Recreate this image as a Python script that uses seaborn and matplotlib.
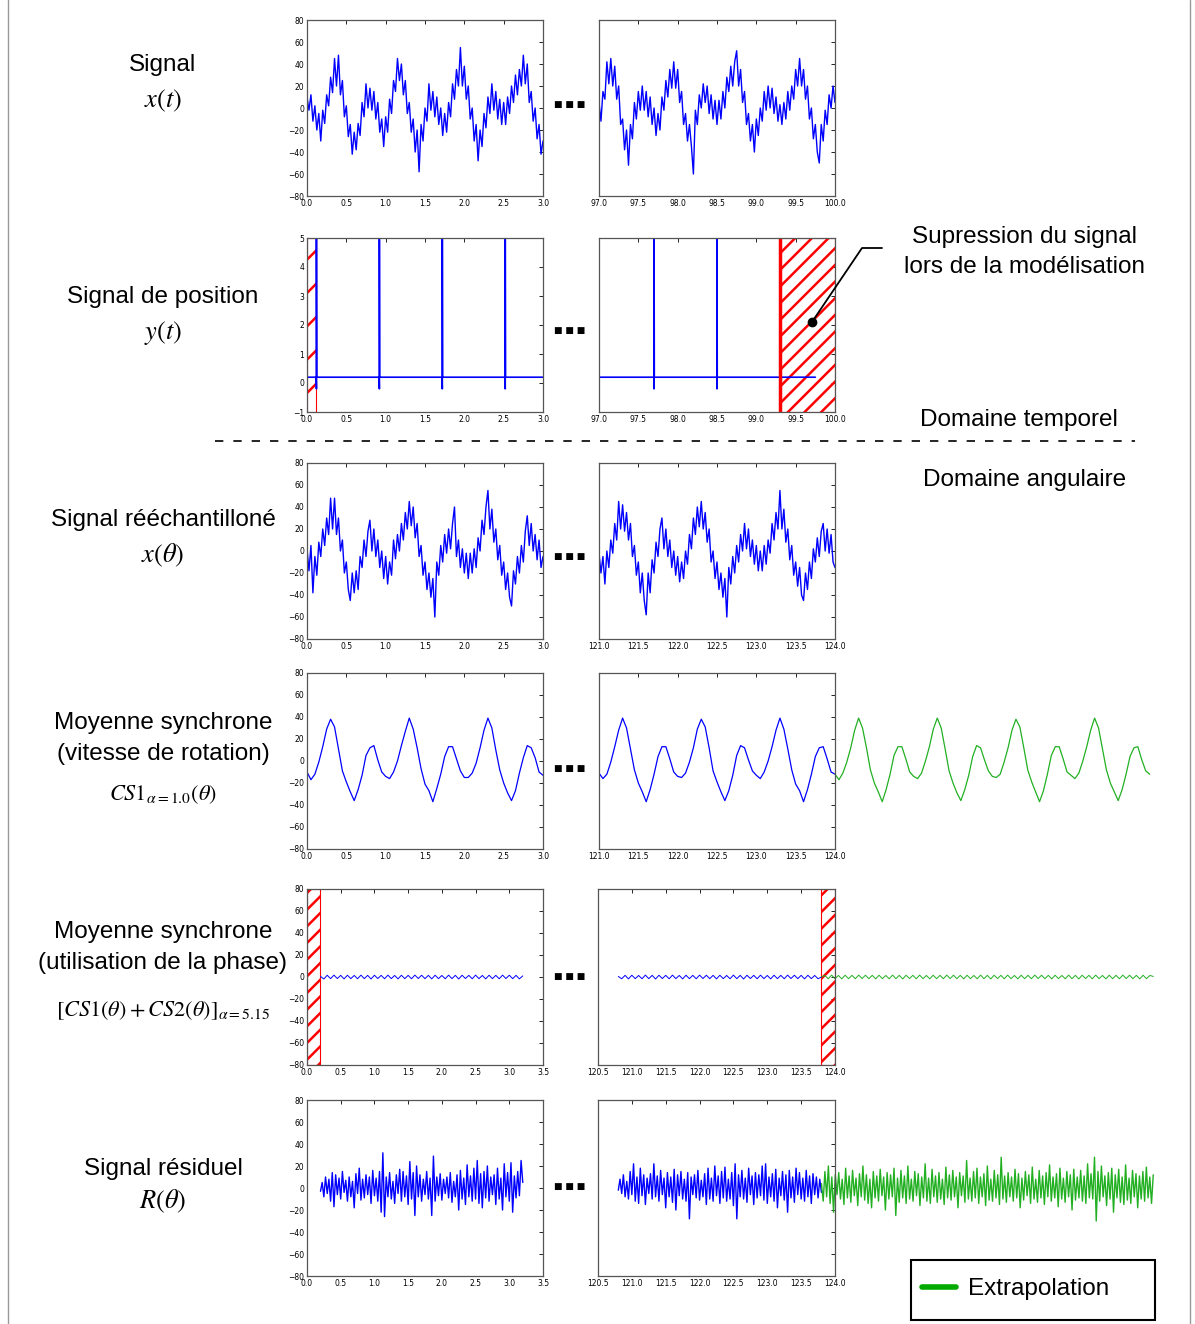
import numpy as np
import matplotlib
matplotlib.use("Agg")
import matplotlib.pyplot as plt
from matplotlib.lines import Line2D
from matplotlib.patches import Rectangle
import seaborn as sns

# ============ DATA ============
# row 1 : time signal x(t)
sig_t_start = [10, -2, 12, -12, 2, -20, -5, -30, -2, -14, 12, 2, 28, 14, 45, 20, 48, 12, 25, -8,
               2, -26, -15, -42, -22, -38, -14, -25, 5, -8, 22, 0, 18, -2, 15, -10, 5, -22, -10, -35,
               -8, -22, 8, -5, 25, 15, 45, 25, 40, 12, 25, -5, 5, -22, -10, -40, -20, -58, -15, -30,
               0, -12, 22, -2, 15, -8, 10, -15, 0, -25, -5, -22, 5, -8, 22, 8, 35, 20, 55, 20,
               38, 8, 20, -10, 0, -30, -15, -48, -20, -35, -5, -18, 10, -5, 22, -2, 15, -10, 8, -15,
               5, -15, 10, -5, 20, 5, 30, 12, 35, 20, 48, 22, 40, 5, 15, -12, 0, -28, -15, -42, -30]
sig_t_end = [5, -12, 15, 8, 42, 22, 45, 20, 38, 8, 20, -15, -10, -38, -20, -52, -15, -28, 5, -10,
             15, -2, 20, -2, 15, -8, 10, -15, 0, -25, -5, -20, 10, -2, 25, 10, 35, 18, 42, 18,
             35, 5, 15, -15, -5, -30, -15, -35, -60, -2, -15, 12, 0, 22, 5, 20, -5, 12, -10, 7,
             -15, 7, -10, 15, 0, 28, 15, 38, 20, 42, 52, 20, 35, 5, 15, -15, -5, -30, -15, -40,
             -10, -25, 0, -12, 15, -2, 20, 0, 18, -5, 10, -12, 3, -15, 5, -10, 15, -2, 20, 8,
             35, 20, 45, 20, 35, 8, 20, -10, 0, -28, -15, -40, -50, -15, -30, -2, -15, 12, 0, 20, 5]

# row 2 : position signal y(t)
pulse_start = [0.12, 0.92, 1.72, 2.52]
pulse_end = [97.7, 98.5]
pulse_top, pulse_low, pos_base = 5.0, -0.2, 0.2
cut_start = (0.0, 0.12)      # suppressed while modelling
cut_end = (99.3, 100.0)
pos_end_stop = 99.75

# row 3 : resampled signal x(theta)
sig_a_start = [2, -18, 5, -38, -5, -22, 8, -5, 20, 5, 30, 15, 48, 20, 48, 15, 30, 0, 10, -20,
               -10, -35, -45, -20, -38, -18, -35, -5, -15, 10, -5, 18, 28, 0, 20, -5, 10, -15, 0, -25,
               -5, -30, -10, -22, 10, -7, 15, 0, 25, 10, 35, 20, 45, 23, 40, 12, 25, -5, 5, -22,
               -10, -35, -20, -42, -25, -60, -10, -22, 5, -10, 15, -2, 20, 2, 25, 40, -5, 10, -15, 2,
               -20, -2, -25, -2, -20, 2, -15, 12, 0, 28, 15, 40, 55, 20, 38, 8, 20, -8, 5, -22,
               -10, -35, -20, -42, -50, -18, -30, -5, -20, 5, -10, 18, 32, 5, 25, 0, 15, -8, 10, -15, -5]
sig_a_end = [-2, -20, -5, -30, 0, -15, 10, -2, 25, 10, 45, 20, 42, 18, 35, 10, 25, -5, 5, -22,
             -10, -38, -20, -45, -58, -20, -38, -8, -20, 8, -5, 20, 30, 2, 20, -5, 10, -15, 0, -22,
             -5, -28, -10, -25, 0, -12, 15, 2, 30, 15, 40, 22, 45, 20, 35, 8, 20, -10, 0, -25,
             -10, -35, -20, -42, -25, -60, -15, -30, -5, -20, 5, -10, 15, 0, 25, 2, 20, -5, 10, -12,
             5, -18, 0, -18, 5, -12, 10, -2, 25, 10, 35, 20, 55, 20, 38, 8, 20, -8, 5, -22,
             -10, -32, -15, -40, -45, -20, -35, -10, -25, 2, -10, 12, -5, 18, 25, 0, 20, -2, 15, -10, -15]

# row 4 : synchronous average CS1
cs1_start = [-10, -17, -12, -1, 13, 29, 38, 31, 11, -9, -19, -28, -36, -26, -13, 5, 12, 14, 1, -10,
             -14, -16, -10, 0, 14, 27, 39, 29, 12, -7, -21, -27, -37, -25, -12, 4, 13, 13, 2, -9,
             -15, -15, -11, -2, 12, 28, 39, 30, 10, -8, -20, -29, -36, -27, -11, 3, 14, 12, 3, -10, -13]
cs1_end = [-11, -16, -12, -1, 13, 28, 39, 30, 11, -8, -20, -28, -37, -26, -12, 4, 13, 13, 2, -10,
           -14, -15, -11, -1, 12, 29, 38, 31, 12, -9, -19, -28, -36, -27, -13, 5, 14, 12, 1, -9,
           -13, -16, -10, 0, 13, 28, 39, 29, 11, -8, -21, -27, -37, -26, -12, 4, 12, 13, 2, -10, -12]
cs1_extra = [-12, -17, -11, -1, 12, 28, 39, 30, 12, -8, -20, -28, -37, -26, -12, 5, 13, 13, 2, -10,
             -14, -16, -11, 0, 13, 29, 39, 30, 11, -9, -20, -29, -36, -26, -13, 4, 14, 12, 1, -9,
             -14, -15, -12, -1, 12, 28, 38, 31, 12, -8, -19, -28, -37, -27, -12, 5, 13, 13, 2, -10,
             -13, -16, -11, 0, 13, 28, 39, 30, 11, -8, -20, -28, -36, -26, -12, 4, 12, 13, 1, -9, -12]

# row 5 : CS1 + CS2 (phase)
cs12_start = [0.5, -1.8, 1.6, -1.5, 1.7, -1.4, 1.5, -1.7, 1.6, -1.5, 1.4, -1.6, 1.7, -1.5, 1.5, -1.8,
              1.6, -1.4, 1.5, -1.6, 1.7, -1.5, 1.4, -1.7, 1.6, -1.5, 1.5, -1.6, 1.7, -1.4, 1.6,
              -1.5, 1.5, -1.7, 1.6, -1.5, 1.4, -1.6, 1.7, -1.5, 1.5, -1.8, 1.6, -1.4, 1.5, -1.6,
              1.7, -1.5, 1.4, -1.7, 1.6, -1.5, 1.5, -1.6, 1.7, -1.4, 1.6, -1.5, 1.5, -1.7, 1.0]
cs12_end = [0.5, -1.6, 1.5, -1.7, 1.6, -1.5, 1.4, -1.6, 1.7, -1.5, 1.5, -1.8, 1.6, -1.4, 1.5, -1.6,
            1.7, -1.5, 1.4, -1.7, 1.6, -1.5, 1.5, -1.6, 1.7, -1.4, 1.6, -1.5, 1.5, -1.7, 1.6,
            -1.5, 1.4, -1.6, 1.7, -1.5, 1.5, -1.8, 1.6, -1.4, 1.5, -1.6, 1.7, -1.5, 1.4, -1.7,
            1.6, -1.5, 1.5, -1.6, 1.7, -1.4, 1.6, -1.5, 1.5, -1.7, 1.6, -1.5, 1.4, -1.6, 0.0]
cs12_extra = [0.0, 1.5, -1.6, 1.7, -1.5, 1.4, -1.7, 1.6, -1.5, 1.5, -1.6, 1.7, -1.4, 1.6, -1.5, 1.5,
              -1.7, 1.6, -1.5, 1.4, -1.6, 1.7, -1.5, 1.5, -1.8, 1.6, -1.4, 1.5, -1.6, 1.7, -1.5,
              1.4, -1.7, 1.6, -1.5, 1.5, -1.6, 1.7, -1.4, 1.6, -1.5, 1.5, -1.7, 1.6, -1.5, 1.4,
              -1.6, 1.7, -1.5, 1.5, -1.8, 1.6, -1.4, 1.5, -1.6, 1.7, -1.5, 1.4, -1.7, 1.6, -1.5,
              1.5, -1.6, 1.7, -1.4, 1.6, -1.5, 1.5, -1.7, 1.6, -1.5, 1.4, -1.6, 1.7, -1.5, 1.5,
              -1.8, 1.6, -1.4, 1.5, -1.6, 1.7, -1.5, 1.4, -1.7, 1.6, -1.5, 1.5, -1.6, 1.7, -1.4,
              1.6, -1.5, 1.5, -1.7, 1.6, -1.5, 1.4, 0.5]

# row 6 : residual R(theta)
res_start = [-3, 5, -8, 10, -5, 8, -12, 14, -17, 12, -6, 9, -10, 15, -4, 7, -12, 10, -8, 6,
             -18, 13, -5, 18, -11, 8, -9, 12, -6, 10, -14, 16, -7, 9, -12, 15, -22, 32, -26, 10,
             -8, 14, -10, 6, -14, 12, -5, 17, -12, 15, -8, 11, -15, 24, -10, 14, -25, 20, -8, 12,
             -12, 8, -6, 15, -10, 9, -25, 29, -12, 10, -7, 13, -11, 8, -5, 10, -9, 14, -13, 6,
             -8, 12, -20, 16, -10, 9, -15, 21, -8, 11, -12, 18, -10, 25, -14, 13, -18, 15, -9, 20,
             -12, 10, -6, 12, -15, 18, -10, 9, -20, 22, -8, 14, -12, 23, -22, 11, -9, 15, -7, 25, 5]
res_end = [-2, 8, -5, 12, -8, 6, -10, 15, -6, 22, -12, 10, -14, 18, -7, 12, -15, 9, -5, 13,
           -10, 22, -8, 11, -12, 16, -6, 9, -18, 14, -8, 10, -13, 17, -20, 12, -7, 15, -10, 8,
           -12, 14, -28, 10, -6, 12, -9, 16, -11, 7, -8, 13, -15, 18, -10, 9, -12, 20, -7, 11,
           -14, 15, -9, 19, -12, 8, -10, 14, -16, 22, -28, 12, -8, 16, -10, 9, -13, 18, -6, 11,
           -15, 14, -9, 12, -7, 20, -11, 22, -14, 10, -8, 13, -12, 17, -18, 9, -7, 15, -11, 12,
           -22, 16, -9, 10, -13, 18, -6, 14, -10, 9, -12, 16, -8, 11, -14, 13, -6, 10, -9, 8, -4]
res_extra = [4, -12, 15, -8, 20, -14, 10, -22, 12, -6, 14, -10, 8, -15, 18, -9, 11, -13, 16, -7,
             9, -16, 13, -8, 20, -11, 12, -14, 8, -18, 15, -9, 11, -12, 17, -7, 10, -20, 14, -10,
             12, -8, 18, -25, 9, -13, 16, -9, 11, -14, 20, -10, 8, -12, 15, -7, 13, -16, 10, -9,
             22, -12, 9, -14, 17, -8, 11, -13, 14, -10, 8, -15, 19, -9, 12, -11, 16, -8, 10, -18,
             14, -7, 11, -13, 25, -10, 9, -12, 15, -9, 18, -14, 10, -8, 13, -16, 20, -11, 8, -12,
             16, -9, 12, -15, 28, -10, 11, -13, 14, -8, 10, -12, 17, -9, 13, -18, 9, -11, 15, -7,
             12, -14, 19, -10, 8, -13, 16, -9, 11, -15, 14, -8, 21, -12, 10, -9, 13, -17, 18, -10,
             9, -13, 15, -8, 12, -20, 17, -11, 10, -9, 16, -12, 11, -14, 22, -9, 13, -10, 28, -30,
             15, -12, 20, -8, 11, -16, 14, -10, 18, -22, 12, -9, 17, -13, 10, -15, 21, -11, 9, -14,
             16, -8, 13, -18, 11, -10, 15, -12, 19, -9, 10, -14, 12]

# ============ STYLE ============
sns.set_theme(style="white")
plt.rcParams["font.family"] = ["Liberation Sans", "DejaVu Sans"]
plt.rcParams["mathtext.fontset"] = "stix"
plt.rcParams["hatch.linewidth"] = 1.8
plt.rcParams["text.color"] = "black"

W, H = 1195, 1324
BLUE = "#0000ff"
GREEN = "#22b022"

fig = plt.figure(figsize=(W / 100, H / 100), dpi=100)
fig.patch.set_facecolor("white")


def add_ax(x0, top, x1, bottom):
    return fig.add_axes([x0 / W, 1 - bottom / H, (x1 - x0) / W, (bottom - top) / H])


def draw(ax, x0, x1, vals, color=BLUE, lw=1.0, clip=True):
    x = np.linspace(x0, x1, len(vals))
    sns.lineplot(x=x, y=vals, ax=ax, color=color, lw=lw, estimator=None,
                 sort=False, legend=False, clip_on=clip)


def style_ax(ax, xlim, xstep, ylim, ystep, show_y=True):
    ax.set_xlim(*xlim)
    ax.set_ylim(*ylim)
    ax.set_xticks(np.arange(xlim[0], xlim[1] + 1e-9, xstep))
    ax.set_yticks(np.arange(ylim[0], ylim[1] + 1e-9, ystep))
    ax.tick_params(direction="in", top=True, right=True, length=3, width=0.6,
                   labelsize=5.5, pad=2, labelleft=show_y, colors="black")
    for lab in ax.get_xticklabels() + ax.get_yticklabels():
        lab.set_fontfamily("DejaVu Sans")
    for sp in ax.spines.values():
        sp.set_color("#555555")
        sp.set_linewidth(0.9)
    ax.set_facecolor("white")


def hatch_span(ax, x0, x1, pattern):
    ax.axvspan(x0, x1, facecolor="none", edgecolor="red", hatch=pattern, lw=0.8)


def pos_series(x0, x1, pulses):
    t, y = [x0], [pos_base]
    for p in pulses:
        t += [p - 0.003, p, p, p + 0.003]
        y += [pos_base, pulse_low, pulse_top, pos_base]
    t.append(x1)
    y.append(pos_base)
    return np.array(t), np.array(y)


rows = [(20, 196), (238, 412), (463, 639), (673, 849), (889, 1065), (1100, 1276)]
SIG = (-80, 80)

# row 1
a = add_ax(307, rows[0][0], 543, rows[0][1])
draw(a, 0.0, 3.0, sig_t_start)
style_ax(a, (0, 3), 0.5, SIG, 20)
b = add_ax(599, rows[0][0], 835, rows[0][1])
draw(b, 97.0, 100.0, sig_t_end)
style_ax(b, (97, 100), 0.5, SIG, 20, show_y=False)

# row 2
a = add_ax(307, rows[1][0], 543, rows[1][1])
t, y = pos_series(0.0, 3.0, pulse_start)
sns.lineplot(x=t, y=y, ax=a, color=BLUE, lw=1.2, estimator=None, sort=False, legend=False)
hatch_span(a, *cut_start, "/")
style_ax(a, (0, 3), 0.5, (-1, 5), 1)
b = add_ax(599, rows[1][0], 835, rows[1][1])
t, y = pos_series(97.0, pos_end_stop, pulse_end)
sns.lineplot(x=t, y=y, ax=b, color=BLUE, lw=1.2, estimator=None, sort=False, legend=False)
hatch_span(b, *cut_end, "//")
b.axvline(cut_end[0], color="red", lw=2.5)
style_ax(b, (97, 100), 0.5, (-1, 5), 1, show_y=False)
b.plot([99.71], [2.1], "o", color="black", ms=6, clip_on=False)

# row 3
a = add_ax(307, rows[2][0], 543, rows[2][1])
draw(a, 0.0, 3.0, sig_a_start)
style_ax(a, (0, 3), 0.5, SIG, 20)
b = add_ax(599, rows[2][0], 835, rows[2][1])
draw(b, 121.0, 124.0, sig_a_end)
style_ax(b, (121, 124), 0.5, SIG, 20, show_y=False)

# row 4
a = add_ax(307, rows[3][0], 543, rows[3][1])
draw(a, 0.0, 3.0, cs1_start, lw=0.9)
style_ax(a, (0, 3), 0.5, SIG, 20)
b = add_ax(599, rows[3][0], 835, rows[3][1])
draw(b, 121.0, 124.0, cs1_end, lw=0.9)
draw(b, 124.0, 128.0, cs1_extra, color=GREEN, lw=0.9, clip=False)
style_ax(b, (121, 124), 0.5, SIG, 20, show_y=False)

# row 5
a = add_ax(307, rows[4][0], 543, rows[4][1])
draw(a, 0.2, 3.2, cs12_start, lw=0.7)
hatch_span(a, 0.0, 0.2, "//")
style_ax(a, (0, 3.5), 0.5, SIG, 20)
b = add_ax(598, rows[4][0], 835, rows[4][1])
draw(b, 120.8, 123.8, cs12_end, lw=0.7)
draw(b, 123.8, 128.7, cs12_extra, color=GREEN, lw=0.7, clip=False)
hatch_span(b, 123.8, 124.0, "//")
style_ax(b, (120.5, 124), 0.5, SIG, 20, show_y=False)

# row 6
a = add_ax(307, rows[5][0], 543, rows[5][1])
draw(a, 0.2, 3.2, res_start)
style_ax(a, (0, 3.5), 0.5, SIG, 20)
b = add_ax(598, rows[5][0], 835, rows[5][1])
draw(b, 120.8, 123.8, res_end)
draw(b, 123.8, 128.7, res_extra, color=GREEN, clip=False)
style_ax(b, (120.5, 124), 0.5, SIG, 20, show_y=False)

# ============ TEXT / DECORATION ============
left_labels = [
    ("Signal", 65, 17.5), ("$x(t)$", 101, 19),
    ("Signal de position", 297, 17.5), ("$y(t)$", 333, 19),
    ("Signal rééchantilloné", 520, 17.5), ("$x(\\theta)$", 555, 19),
    ("Moyenne synchrone", 723, 17.5), ("(vitesse de rotation)", 754, 17.5),
    ("$CS1_{\\alpha=1.0}(\\theta)$", 795, 16),
    ("Moyenne synchrone", 932, 17.5), ("(utilisation de la phase)", 963, 17.5),
    ("$[CS1(\\theta) + CS2(\\theta)]_{\\alpha=5.15}$", 1011, 16),
    ("Signal résiduel", 1169, 17.5), ("$R(\\theta)$", 1201, 19),
]
for txt, yp, fs in left_labels:
    fig.text(163 / W, 1 - yp / H, txt, ha="center", va="center", fontsize=fs, color="black")

fig.text(1025 / W, 1 - 237 / H, "Supression du signal", ha="center", va="center", fontsize=17.5)
fig.text(1025 / W, 1 - 267 / H, "lors de la modélisation", ha="center", va="center", fontsize=17.5)
fig.text(1019 / W, 1 - 420 / H, "Domaine temporel", ha="center", va="center", fontsize=17.5)
fig.text(1025 / W, 1 - 480 / H, "Domaine angulaire", ha="center", va="center", fontsize=17.5)

# leader line to the suppressed area
fig.add_artist(Line2D([812 / W, 862 / W, 882 / W], [1 - 322 / H, 1 - 248 / H, 1 - 248 / H],
                      color="black", lw=1.3, transform=fig.transFigure))

# "..." between the two windows
for yp in [105, 330, 557, 769, 977, 1186]:
    fig.text(570 / W, 1 - yp / H, "■ ■ ■", ha="center", va="center", fontsize=6.5,
             family="DejaVu Sans")

# time / angle separation
fig.add_artist(Line2D([215 / W, 1135 / W], [1 - 441 / H, 1 - 441 / H], color="black",
                      lw=1.2, ls=(0, (5, 6)), transform=fig.transFigure))

# page border
for xp in [8, 1190]:
    fig.add_artist(Line2D([xp / W, xp / W], [0, 1], color="#999999", lw=1,
                          transform=fig.transFigure))

# legend box
fig.add_artist(Rectangle((911 / W, 1 - 1320 / H), 244 / W, 60 / H, fill=False,
                         ec="black", lw=1.5, transform=fig.transFigure))
h = Line2D([], [], color="#00aa00", lw=4)
fig.legend(handles=[h], labels=["Extrapolation"], loc="center left",
           bbox_to_anchor=(922 / W, 1 - 1289 / H), frameon=False, fontsize=17.5,
           handlelength=1.4, handletextpad=0.5, borderpad=0, borderaxespad=0)

fig.savefig("out.png", dpi=100, facecolor="white")
